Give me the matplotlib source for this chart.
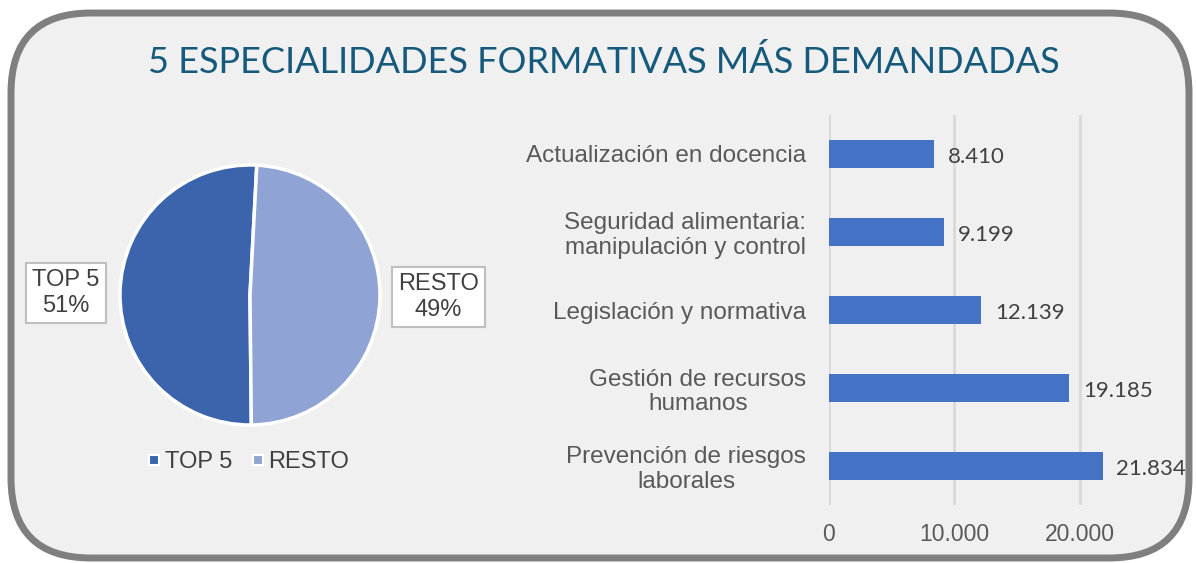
import numpy as np
import matplotlib.pyplot as plt
from matplotlib.patches import FancyBboxPatch
from matplotlib.lines import Line2D

# datos
pie_labels = ['TOP 5', 'RESTO']
pie_pct = [51, 49]
pie_colors = ['#3c64ad', '#8fa3d4']

cursos = ['Actualización en docencia',
          'Seguridad alimentaria:\nmanipulación y control',
          'Legislación y normativa',
          'Gestión de recursos\nhumanos',
          'Prevención de riesgos\nlaborales']
alumnos = [8410, 9199, 12139, 19185, 21834]
xticks = [0, 10000, 20000]

W, H = 1196, 563
fig = plt.figure(figsize=(W / 100, H / 100), dpi=100)
fig.patch.set_facecolor('white')

def box(l, t, w, h):
    return [l / W, 1 - (t + h) / H, w / W, h / H]

# marco redondeado
bg = fig.add_axes([0, 0, 1, 1])
bg.set_xlim(0, W)
bg.set_ylim(H, 0)
bg.axis('off')
frame = FancyBboxPatch((11, 13), 1178, 545, boxstyle='round,pad=0,rounding_size=80',
                       fc='#f0f0f0', ec='#7f7f7f', lw=5)
bg.add_patch(frame)
bg.text(604, 62, '5 ESPECIALIDADES FORMATIVAS MÁS DEMANDADAS', ha='center', va='center',
        fontsize=26, color='#155a7c', family='Lato')

txt = '#404040'

# tarta
axp = fig.add_axes(box(250 - 143, 295 - 143, 286, 286))
wedges, _ = axp.pie(pie_pct, colors=pie_colors, startangle=87, counterclock=True,
                    wedgeprops=dict(edgecolor='white', linewidth=2.5))
axp.set_xlim(-1.1, 1.1)
axp.set_ylim(-1.1, 1.1)
axp.set_aspect('equal')
lab_pos = [(-1.415, 0.015), (1.45, -0.015)]
for lab, p, (x, y) in zip(pie_labels, pie_pct, lab_pos):
    axp.text(x, y, '%s\n%d%%' % (lab, p), ha='center', va='center', fontsize=17,
             color=txt, family='Liberation Sans', linespacing=1.2,
             bbox=dict(boxstyle='square,pad=0.25', fc='white', ec='#bfbfbf', lw=1.5))

handles = [Line2D([], [], marker='s', ls='', ms=7, mfc=c, mec='white', mew=1.5)
           for c in pie_colors]
fig.legend(handles, pie_labels, loc='center', bbox_to_anchor=(247 / W, 1 - 462 / H),
           ncol=2, frameon=False, handletextpad=0.05, columnspacing=0.7,
           handlelength=0.8, labelcolor=txt, prop=dict(family='Liberation Sans', size=17))

# barras
axb = fig.add_axes(box(828.5, 115, 25000 * 0.01255, 390))
axb.set_facecolor('none')
y = np.arange(len(cursos))
axb.barh(y, alumnos, height=0.37, color='#4472c4', zorder=3)
axb.set_ylim(len(cursos) - 0.5, -0.5)
axb.set_xlim(0, 25000)
axb.set_xticks(xticks)
axb.set_xticklabels(['{:,}'.format(v).replace(',', '.') for v in xticks])
axb.set_yticks(y)
axb.set_yticklabels(cursos, ha='right', multialignment='center', linespacing=1.15)
axb.tick_params(axis='y', length=0, pad=16, labelsize=17.5, labelcolor='#595959')
axb.tick_params(axis='x', length=0, pad=13, labelsize=16.5, labelcolor='#595959')
for lbl in axb.get_yticklabels() + axb.get_xticklabels():
    lbl.set_family('Liberation Sans')
axb.grid(axis='x', color='#d9d9d9', lw=2, zorder=0)
for s in axb.spines.values():
    s.set_visible(False)
for yi, v in zip(y, alumnos):
    axb.annotate('{:,}'.format(v).replace(',', '.'), (v, yi), xytext=(10, -2),
                 textcoords='offset points', ha='left', va='center', fontsize=16,
                 color=txt, family='Lato')

fig.savefig('out.png', dpi=100, facecolor='white')
